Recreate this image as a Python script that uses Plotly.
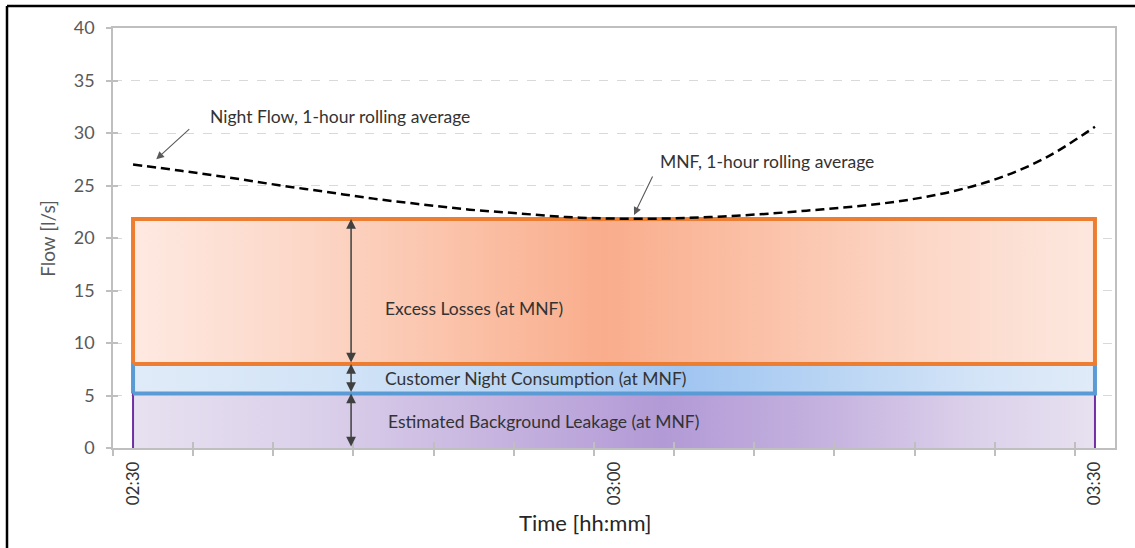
import plotly.graph_objects as go

# night flow, 1-hour rolling average (l/s)
times = ["02:30", "02:33", "02:36", "02:39", "02:42", "02:45", "02:48", "02:51", "02:54", "02:57", "03:00",
         "03:03", "03:06", "03:09", "03:12", "03:15", "03:18", "03:21", "03:24", "03:27", "03:30"]
night_flow = [27.0, 26.4, 25.75, 25.05, 24.4, 23.75, 23.2, 22.7, 22.35, 22.0, 21.85,
              21.85, 22.0, 22.25, 22.6, 23.0, 23.55, 24.4, 25.7, 27.7, 30.6]

# components at MNF (l/s)
background_leakage = 5.2
customer_night_use = 8.0
mnf = 21.8
box_start = "02:30"
box_end = "03:30"

tick_labels = ["02:30", "03:00", "03:30"]

font = "Lato"


def mins(t):
    h, m = t.split(":")
    return int(h) * 60 + int(m) - 150


x = [mins(t) for t in times]
x0 = mins(box_start)
x1 = mins(box_end)

fig = go.Figure()


def band(y_lo, y_hi, cs, line_color, line_width, sides_only=False):
    if sides_only:
        xs = [x0, x0, x1, x1]
        ys = [y_lo, y_hi, y_hi, y_lo]
    else:
        xs = [x0, x0, x1, x1, x0]
        ys = [y_lo, y_hi, y_hi, y_lo, y_lo]
    fig.add_trace(go.Scatter(
        x=xs, y=ys, mode="lines", fill="toself",
        fillgradient=dict(type="horizontal", colorscale=cs, start=x0, stop=x1),
        line=dict(color=line_color, width=line_width),
        hoverinfo="skip", showlegend=False))


purple_cs = [[0, "#e7e1f0"], [0.2, "#dacfea"], [0.38, "#c6b3df"], [0.55, "#b29ad6"],
             [0.72, "#c5b2df"], [0.87, "#dbd0ea"], [1, "#e7e1f0"]]
blue_cs = [[0, "#e0ebf8"], [0.2, "#d3e4f7"], [0.4, "#bbd6f4"], [0.57, "#a0c5f1"],
           [0.75, "#bdd7f4"], [0.88, "#d4e4f7"], [1, "#e0ebf8"]]
orange_cs = [[0, "#fee9e1"], [0.17, "#fcd8c9"], [0.33, "#fbc3aa"], [0.49, "#f9ad8c"],
             [0.66, "#fbc2a9"], [0.83, "#fcd8c9"], [1, "#fde7de"]]

band(0, background_leakage, purple_cs, "#7030a0", 2, sides_only=True)
band(background_leakage, customer_night_use, blue_cs, "#5b9bd5", 4)
band(customer_night_use, mnf, orange_cs, "#ed7d31", 4)

fig.add_trace(go.Scatter(
    x=x, y=night_flow, mode="lines", line=dict(color="black", width=2.5, dash="9px,5px", shape="spline"),
    hoverinfo="skip", showlegend=False))

# dummy trace so the overlay axes (cross ticks) are drawn
fig.add_trace(go.Scatter(x=[None], y=[None], xaxis="x2", yaxis="y2", showlegend=False, hoverinfo="skip"))

# double arrows between the levels
arrow_x = 13.6
levels = [0, background_leakage, customer_night_use, mnf]
for lo, hi in zip(levels[:-1], levels[1:]):
    fig.add_annotation(x=arrow_x, y=hi, ax=arrow_x, ay=lo, xref="x", yref="y", axref="x", ayref="y",
                       text="", showarrow=True, arrowhead=2, startarrowhead=2, arrowside="end+start",
                       arrowsize=1.3, startarrowsize=1.3, arrowwidth=1.5, arrowcolor="#404040")

labels = [
    (15.6, 13.3, "Excess Losses (at MNF)"),
    (15.6, 6.65, "Customer Night Consumption (at MNF)"),
    (15.75, 2.5, "Estimated Background Leakage (at MNF)"),
    (4.7, 31.6, "Night Flow, 1-hour rolling average"),
    (32.75, 27.3, "MNF, 1-hour rolling average"),
]
for lx, ly, txt in labels:
    fig.add_annotation(x=lx, y=ly, text=txt, showarrow=False, xanchor="left", yanchor="middle",
                       font=dict(family=font, size=17.5, color="#333333"))

# pointer arrows
fig.add_annotation(x=1.45, y=27.5, ax=3.6, ay=30.5, xref="x", yref="y", axref="x", ayref="y", text="",
                   showarrow=True, arrowhead=2, arrowsize=1.4, arrowwidth=1.1, arrowcolor="#595959")
fig.add_annotation(x=31.25, y=22.2, ax=32.45, ay=26.0, xref="x", yref="y", axref="x", ayref="y", text="",
                   showarrow=True, arrowhead=2, arrowsize=1.4, arrowwidth=1.1, arrowcolor="#595959")

# axis titles
fig.add_annotation(x=0.472, y=-0.178, xref="paper", yref="paper", text="Time [hh:mm]", showarrow=False,
                   xanchor="center", yanchor="middle", font=dict(family=font, size=22, color="#262626"))
fig.add_annotation(x=-0.066, y=0.5, xref="paper", yref="paper", text="Flow [l/s]", showarrow=False,
                   textangle=-90, xanchor="center", yanchor="middle",
                   font=dict(family=font, size=19, color="#595959"))

xr = [-1.25, 61.25]
minor_ticks = [-1.25 + 5 * i for i in range(13)]
grey = "#bfbfbf"

fig.update_layout(
    width=1135, height=548,
    margin=dict(l=113, r=20, t=28, b=100),
    paper_bgcolor="white", plot_bgcolor="white",
    font=dict(family=font),
    xaxis=dict(range=xr, tickmode="array", tickvals=[mins(t) for t in tick_labels], ticktext=tick_labels,
               tickangle=-90, ticks="", showline=True, linecolor=grey, linewidth=1.5, mirror=True,
               showgrid=False, zeroline=False, ticklabelstandoff=5,
               tickfont=dict(family=font, size=17, color="#333333"),
               minor=dict(tickmode="array", tickvals=minor_ticks, ticks="outside", ticklen=6,
                          tickcolor=grey, tickwidth=1.5)),
    xaxis2=dict(range=xr, overlaying="x", anchor="y", side="bottom", tickmode="array", tickvals=minor_ticks,
                ticks="inside", ticklen=6, tickcolor=grey, tickwidth=1.5, showticklabels=False,
                showgrid=False, zeroline=False, showline=False),
    yaxis=dict(range=[0, 40], dtick=5, ticks="outside", ticklen=5, tickcolor=grey, tickwidth=1.5,
               showgrid=True, gridcolor="#d9d9d9", griddash="dash", gridwidth=1.3,
               showline=True, linecolor=grey, linewidth=1.5, mirror=True, zeroline=False,
               ticklabelstandoff=8, tickfont=dict(family=font, size=18, color="#595959")),
    yaxis2=dict(range=[0, 40], overlaying="y", anchor="x", side="left", dtick=5, ticks="inside", ticklen=5,
                tickcolor=grey, tickwidth=1.5, showticklabels=False, showgrid=False, zeroline=False,
                showline=False),
    showlegend=False,
)

# outer frame (left and top edges)
fl = (7 - 113) / 1002
ft = (448 - 6) / 420
fb = -(548 - 448) / 420
fig.add_shape(type="line", xref="paper", yref="paper", x0=fl, x1=fl, y0=fb, y1=ft,
              line=dict(color="black", width=2.5))
fig.add_shape(type="line", xref="paper", yref="paper", x0=fl, x1=(1135 - 113) / 1002, y0=ft, y1=ft,
              line=dict(color="black", width=2.5))

# page body has a default 8px margin; drop it so the figure sits at the window origin
fig.write_html("out.html", config={"displayModeBar": False},
               post_script="document.body.style.margin='0';")
